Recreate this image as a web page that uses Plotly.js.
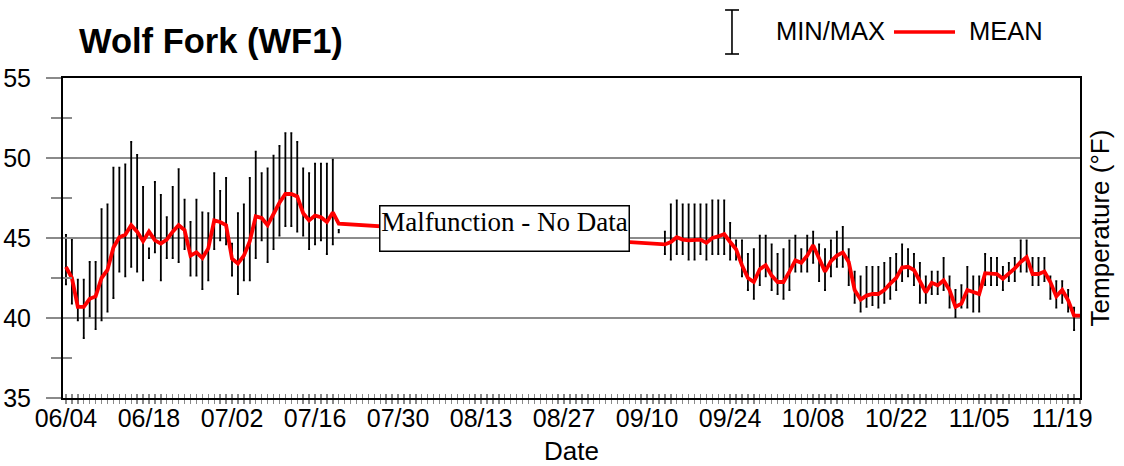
<!DOCTYPE html>
<html>
<head>
<meta charset="utf-8">
<script src="https://cdn.plot.ly/plotly-3.0.1.min.js"></script>
<style>
  html, body { margin: 0; padding: 0; background: #ffffff; }
  #chart { width: 1124px; height: 466px; }
</style>
</head>
<body>
<div id="chart"></div>
<script>
// Daily water temperature (°F) at Wolf Fork (WF1)
// Early-season record: 06/04 through 07/20
const summerStart = '2021-06-04';
const summerMean = [43.2, 42.5, 40.7, 40.7, 41.2, 41.35, 42.5, 43.0, 44.4, 45.05,
  45.2, 45.8, 45.4, 44.8, 45.4, 44.85, 44.65, 44.9, 45.4, 45.8,
  45.5, 43.9, 44.1, 43.75, 44.35, 46.1, 46.0, 45.8, 43.7, 43.4,
  43.9, 44.8, 46.35, 46.25, 45.8, 46.5, 47.2, 47.75, 47.75, 47.6,
  46.55, 46.1, 46.4, 46.3, 46.0, 46.6, 45.9];
const summerMax = [45.2, 44.9, 42.4, 42.4, 43.5, 43.5, 46.8, 47.1, 49.4, 49.4,
  49.6, 51.0, 50.2, 48.2, 44.35, 48.5, 47.7, 46.3, 48.2, 49.3,
  47.4, 46.0, 47.4, 46.6, 46.55, 49.05, 47.95, 48.75, 44.65, 46.55,
  47.1, 48.75, 50.4, 49.05, 49.35, 50.15, 50.75, 51.55, 51.55, 51.0,
  49.35, 49.05, 49.65, 49.65, 49.65, 49.9, 45.5];
const summerMin = [42.1, 40.9, 39.85, 38.75, 40.1, 39.3, 39.85, 40.4, 41.25, 42.9,
  42.6, 43.2, 42.9, 42.35, 43.75, 44.1, 42.35, 43.75, 43.75, 43.5,
  44.3, 42.65, 42.65, 41.8, 42.35, 44.3, 44.85, 44.6, 42.65, 41.5,
  42.35, 42.35, 43.75, 44.85, 43.5, 44.3, 45.15, 45.75, 45.75, 45.4,
  45.15, 44.3, 44.6, 44.85, 44.0, 44.6, 45.35];

// Late-season record after the logger outage: 09/13 through 11/22
const fallStart = '2021-09-13';
const fallMean = [44.6, 44.75, 45.05, 44.9, 44.85, 44.9, 44.9, 44.7, 45.0, 45.1,
  45.25, 44.75, 44.3, 43.3, 42.5, 42.25, 43.05, 43.3, 42.65, 42.25,
  42.25, 42.9, 43.6, 43.45, 43.9, 44.55, 43.7, 42.9, 43.55, 43.9,
  44.1, 43.5, 41.75, 41.15, 41.4, 41.5, 41.5, 41.75, 42.15, 42.5,
  43.15, 43.2, 43.0, 42.35, 41.6, 42.2, 42.05, 42.35, 41.75, 40.7,
  40.9, 41.75, 41.6, 41.5, 42.8, 42.8, 42.75, 42.45, 42.75, 43.1,
  43.5, 43.8, 42.75, 42.75, 42.9, 42.25, 41.35, 41.75, 41.1, 40.15,
  40.15];
const fallMax = [45.4, 47.1, 47.35, 47.1, 47.1, 47.1, 47.1, 47.1, 47.35, 47.35,
  47.35, 45.95, 44.85, 44.85, 44.0, 44.3, 45.15, 45.15, 44.6, 44.0,
  44.3, 44.85, 45.15, 44.3, 45.15, 45.4, 44.6, 44.3, 44.85, 45.4,
  45.7, 44.3, 42.9, 42.6, 43.2, 43.2, 43.2, 43.45, 43.75, 44.0,
  44.6, 44.3, 44.0, 43.45, 42.6, 42.9, 42.9, 43.75, 42.6, 41.75,
  42.05, 43.2, 42.6, 42.6, 44.0, 43.75, 43.75, 43.2, 43.45, 43.75,
  44.85, 44.85, 43.75, 43.75, 43.75, 42.6, 42.3, 42.3, 41.75, 40.65,
  null];
const fallMin = [44.0, 43.65, 44.0, 44.0, 43.65, 43.65, 44.0, 43.65, 44.0, 44.0,
  44.0, 43.65, 43.65, 42.6, 41.75, 41.2, 42.05, 42.6, 41.75, 41.5,
  41.2, 41.75, 42.9, 42.9, 42.9, 43.45, 42.3, 41.75, 42.6, 43.2,
  43.2, 42.05, 40.95, 40.4, 40.7, 40.8, 40.65, 40.95, 41.2, 41.75,
  42.3, 42.6, 42.05, 40.95, 40.95, 41.5, 41.5, 41.75, 40.65, 40.05,
  40.65, 40.65, 40.4, 40.4, 42.05, 42.05, 42.05, 41.75, 42.3, 42.3,
  42.9, 42.9, 42.05, 42.05, 42.3, 41.2, 40.65, 40.95, 40.4, 39.25,
  null];

const tempTicks = [35, 40, 45, 50, 55];
const axisStart = '2021-06-03 12:00';
const axisEnd = '2021-11-22 00:00';

// consecutive calendar days starting at a given date
function dailyDates(start, count) {
  const out = [];
  const t0 = new Date(start + 'T00:00:00Z').getTime();
  for (let i = 0; i < count; i++) {
    out.push(new Date(t0 + i * 86400000).toISOString().slice(0, 10));
  }
  return out;
}

const dates = dailyDates(summerStart, summerMean.length)
  .concat(dailyDates(fallStart, fallMean.length));
const means = summerMean.concat(fallMean);
const maxs = summerMax.concat(fallMax);
const mins = summerMin.concat(fallMin);

// each daily range is drawn as an error bar centred on the min/max midpoint
const mid = maxs.map((hi, i) => (hi == null || mins[i] == null) ? null : (hi + mins[i]) / 2);
const half = maxs.map((hi, i) => (hi == null || mins[i] == null) ? null : (hi - mins[i]) / 2);

const font = 'Liberation Sans, Arial, sans-serif';
const tickGray = '#8a8a8a';

const rangeTrace = {
  x: dates, y: mid, type: 'scatter', mode: 'markers',
  marker: {size: 1, opacity: 0}, name: 'MIN/MAX', showlegend: false,
  error_y: {type: 'data', symmetric: true, array: half, visible: true,
            color: '#000000', thickness: 1.8, width: 1},
  hoverinfo: 'skip', xaxis: 'x', yaxis: 'y'
};

const meanTrace = {
  x: dates, y: means, type: 'scatter', mode: 'lines',
  line: {color: '#ff0000', width: 3.8}, name: 'MEAN', showlegend: false,
  connectgaps: true, xaxis: 'x2', yaxis: 'y2'
};

const baseY = {
  range: [35, 55], tickvals: tempTicks, ticktext: tempTicks.map(String),
  ticks: 'outside', ticklen: 15, tickwidth: 1.6, tickcolor: tickGray,
  minor: {dtick: 2.5, ticks: 'outside', ticklen: 10, tickwidth: 1.6, tickcolor: tickGray, showgrid: false},
  showgrid: true, gridcolor: '#8c8c8c', gridwidth: 2,
  showline: true, linecolor: '#000000', linewidth: 2, mirror: true,
  zeroline: false, tickfont: {family: font, size: 25, color: '#000000'},
  ticklabelstandoff: 10, fixedrange: true
};
const overlayY = {
  overlaying: 'y', side: 'left', range: [35, 55], tickvals: tempTicks,
  ticks: 'inside', ticklen: 14, tickwidth: 1.6, tickcolor: tickGray,
  minor: {dtick: 2.5, ticks: 'inside', ticklen: 9, tickwidth: 1.6, tickcolor: tickGray, showgrid: false},
  showticklabels: false, showgrid: false, showline: false, zeroline: false, fixedrange: true
};
const baseX = {
  type: 'date', range: [axisStart, axisEnd], tick0: summerStart, dtick: 14 * 86400000,
  tickformat: '%m/%d', ticks: 'outside', ticklen: 4, tickwidth: 1.4, tickcolor: tickGray,
  minor: {dtick: 86400000, tick0: summerStart, ticks: 'outside', ticklen: 4, tickwidth: 1.4, tickcolor: tickGray, showgrid: false},
  showgrid: false, showline: true, linecolor: '#000000', linewidth: 2, mirror: true,
  zeroline: false, tickfont: {family: font, size: 25, color: '#000000'},
  ticklabelstandoff: -7,
  title: {text: 'Date', font: {family: font, size: 26, color: '#000000'}, standoff: 12},
  fixedrange: true
};
const overlayX = {
  type: 'date', overlaying: 'x', side: 'bottom', range: [axisStart, axisEnd],
  tick0: summerStart, dtick: 14 * 86400000, ticks: 'inside', ticklen: 4, tickwidth: 1.4, tickcolor: tickGray,
  minor: {dtick: 86400000, tick0: summerStart, ticks: 'inside', ticklen: 4, tickwidth: 1.4, tickcolor: tickGray, showgrid: false},
  showticklabels: false, showgrid: false, showline: false, zeroline: false, fixedrange: true
};

// legend drawn in paper units above the plot area
const legendShapes = [
  {type: 'line', xref: 'paper', yref: 'paper', x0: 0.6578, x1: 0.6578, y0: 1.075, y1: 1.2125, line: {color: '#000', width: 1.6}},
  {type: 'line', xref: 'paper', yref: 'paper', x0: 0.6510, x1: 0.6647, y0: 1.2125, y1: 1.2125, line: {color: '#000', width: 1.6}},
  {type: 'line', xref: 'paper', yref: 'paper', x0: 0.6510, x1: 0.6647, y0: 1.075, y1: 1.075, line: {color: '#000', width: 1.6}},
  {type: 'line', xref: 'paper', yref: 'paper', x0: 0.8171, x1: 0.8771, y0: 1.1437, y1: 1.1437, line: {color: '#ff0000', width: 3.6}}
];

const annotations = [
  {xref: 'paper', yref: 'paper', x: 0.6995, y: 1.1484, xanchor: 'left', yanchor: 'middle',
   text: 'MIN/MAX', showarrow: false, font: {family: font, size: 25.5, color: '#000'}},
  {xref: 'paper', yref: 'paper', x: 0.8885, y: 1.1484, xanchor: 'left', yanchor: 'middle',
   text: 'MEAN', showarrow: false, font: {family: font, size: 25.5, color: '#000'}},
  {xref: 'paper', yref: 'paper', x: 1.0197, y: 0.53, xanchor: 'center', yanchor: 'middle',
   text: 'Temperature (°F)', textangle: -90, showarrow: false,
   font: {family: font, size: 26, color: '#000'}},
  {xref: 'x', yref: 'y', x: '2021-08-17 00:00', y: 45.6, xanchor: 'center', yanchor: 'middle',
   text: 'Malfunction - No Data', showarrow: false, width: 248, height: 44, valign: 'top',
   bgcolor: '#ffffff', bordercolor: '#000000', borderwidth: 1.5, borderpad: 0,
   font: {family: 'Liberation Serif, Times New Roman, serif', size: 27, color: '#000'}}
];

const layout = {
  width: 1124, height: 466,
  margin: {l: 63, r: 44, t: 78, b: 68},
  paper_bgcolor: '#ffffff', plot_bgcolor: '#ffffff',
  showlegend: false,
  title: {text: '<b>Wolf Fork (WF1)</b>', font: {family: font, size: 34.5, color: '#000000'},
          xref: 'container', yref: 'container', x: 79 / 1124, xanchor: 'left',
          y: 1 - 41 / 466, yanchor: 'middle'},
  xaxis: baseX, xaxis2: overlayX, yaxis: baseY, yaxis2: overlayY,
  shapes: legendShapes, annotations: annotations
};

Plotly.newPlot('chart', [rangeTrace, meanTrace], layout, {staticPlot: true, displayModeBar: false});
</script>
</body>
</html>
